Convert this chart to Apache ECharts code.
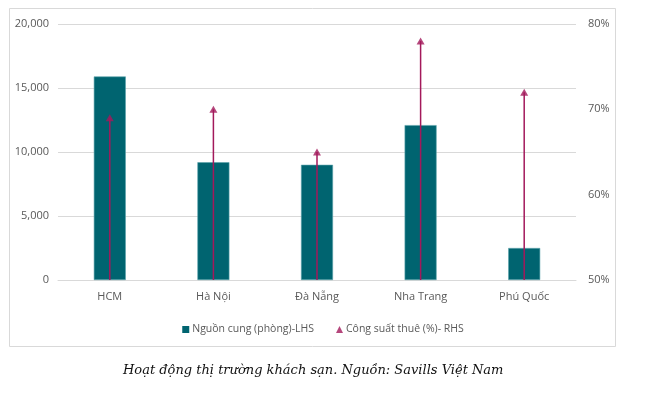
<!DOCTYPE html>
<html>
<head>
<meta charset="utf-8">
<script src="https://cdn.jsdelivr.net/npm/echarts@6/dist/echarts.min.js"></script>
<style>
html,body{margin:0;padding:0;background:#fff;}
#c{width:646px;height:394px;}
</style>
</head>
<body>
<div id="c"></div>
<script>
const categories = ['HCM', 'Hà Nội', 'Đà Nẵng', 'Nha Trang', 'Phú Quốc'];
const supply = [15900, 9200, 9000, 12100, 2500];
const occupancy = [69, 70, 65, 78, 72];
const supplyName = 'Nguồn cung (phòng)-LHS';
const occName = 'Công suất thuê (%)- RHS';
const caption = 'Hoạt động thị trường khách sạn. Nguồn: Savills Việt Nam';

const FONT = '"Open Sans", "Noto Sans", sans-serif';
const chart = echarts.init(document.getElementById('c'), null, {renderer: 'canvas'});
chart.setOption({
  animation: false,
  backgroundColor: '#fff',
  grid: {left: 58, right: 70, top: 24, bottom: 114, containLabel: false},
  legend: {
    data: [{name: supplyName, icon: 'rect', itemStyle: {borderWidth: 0}},
           {name: occName, icon: 'triangle'}],
    top: 319, left: 'center',
    itemWidth: 7, itemHeight: 7, itemGap: 22,
    textStyle: {fontFamily: FONT, fontSize: 10.5, color: '#595959', padding: [0,0,0,-2]}
  },
  xAxis: [
    {type: 'category', data: categories,
     axisLine: {show: true, lineStyle: {color: '#d9d9d9'}},
     axisTick: {show: false},
     axisLabel: {fontFamily: FONT, fontSize: 11, color: '#595959', margin: 11}},
    {type: 'category', data: categories, show: false}
  ],
  yAxis: [
    {type: 'value', min: 0, max: 20000, interval: 5000,
     axisLine: {show: false}, axisTick: {show: false},
     splitLine: {lineStyle: {color: '#d9d9d9'}},
     axisLabel: {fontFamily: FONT, fontSize: 11, color: '#595959', margin: 9,
       formatter: v => v.toLocaleString('en-US')}},
    {type: 'value', min: 50, max: 80, interval: 10,
     axisLine: {show: false}, axisTick: {show: false},
     splitLine: {show: false},
     axisLabel: {fontFamily: FONT, fontSize: 11, color: '#595959', margin: 12,
       formatter: v => v + '%'}}
  ],
  series: [
    {name: supplyName, type: 'bar', data: supply, barWidth: 32,
     itemStyle: {color: '#006470', borderColor: '#5aa3ab', borderWidth: 0.6}},
    {name: 'drop', type: 'bar', xAxisIndex: 1, yAxisIndex: 1, data: occupancy,
     barWidth: 1.5, itemStyle: {color: '#a3195b'}, z: 3},
    {name: occName, type: 'scatter', xAxisIndex: 1, yAxisIndex: 1, data: occupancy,
     symbol: 'triangle', symbolSize: [8, 7],
     itemStyle: {color: '#a3195b'}, z: 4}
  ],
  graphic: [
    {type: 'rect', shape: {x: 9.5, y: 8.5, width: 606, height: 338},
     style: {fill: 'none', stroke: '#d9d9d9', lineWidth: 1}, z: -1, silent: true},
    {type: 'text', left: 123, top: 364,
     style: {text: caption, font: 'italic 13px "DejaVu Serif", serif', fill: '#111'}}
  ]
});
</script>
</body>
</html>
